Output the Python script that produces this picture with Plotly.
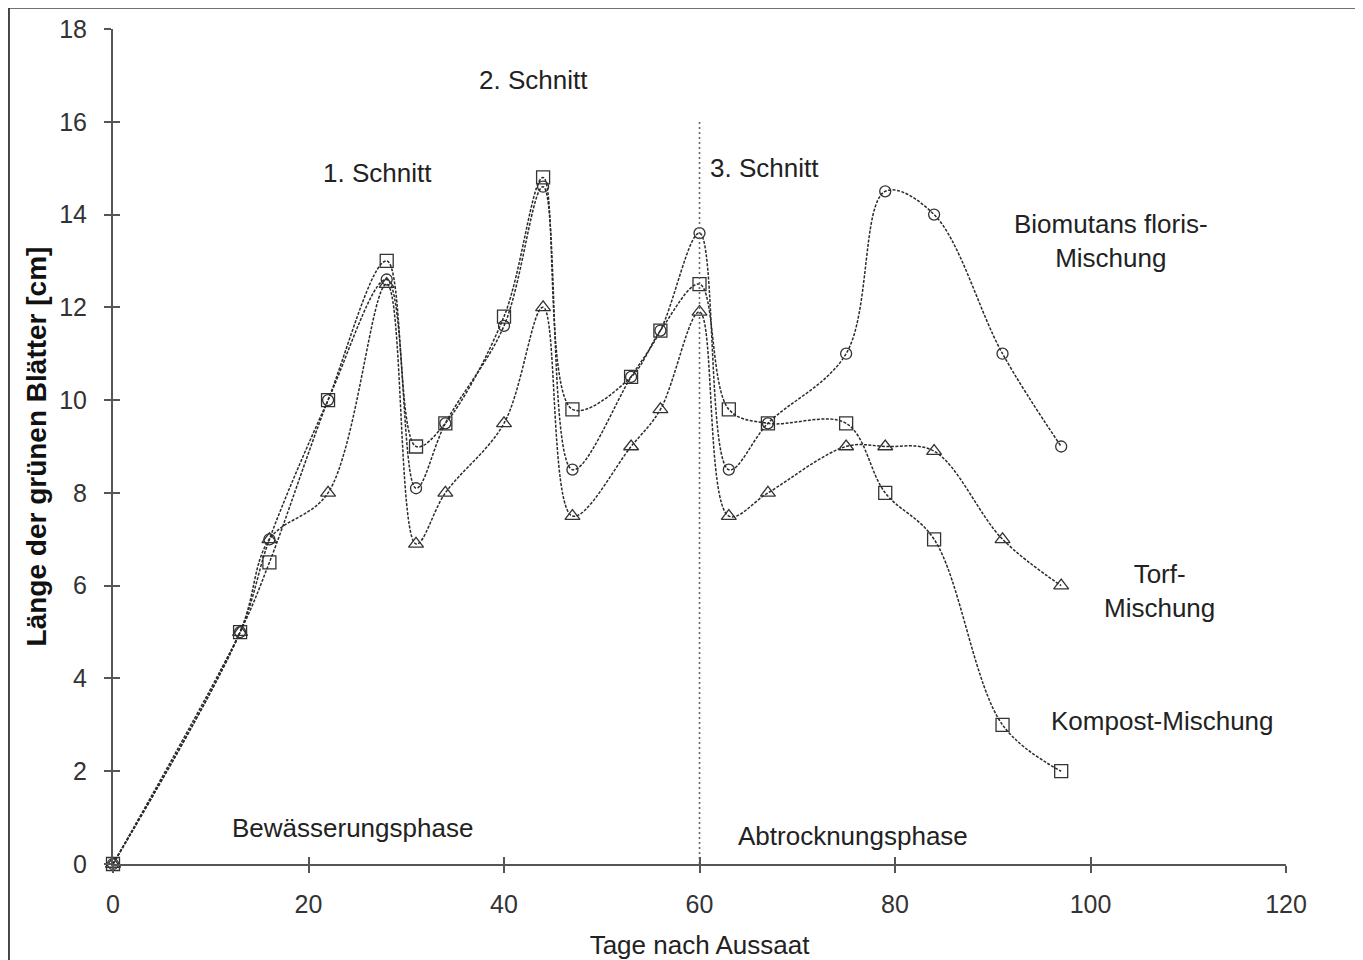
import plotly.graph_objects as go

# ---- data ----
days = [0, 13, 16, 22, 28, 31, 34, 40, 44, 47, 53, 56, 60, 63, 67, 75, 79, 84, 91, 97]
biomutans = [0, 5, 7, 10, 12.6, 8.1, 9.5, 11.6, 14.6, 8.5, 10.5, 11.5, 13.6, 8.5, 9.5, 11.0, 14.5, 14.0, 11.0, 9.0]
torf = [0, 5, 7, 8, 12.5, 6.9, 8.0, 9.5, 12.0, 7.5, 9.0, 9.8, 11.9, 7.5, 8.0, 9.0, 9.0, 8.9, 7.0, 6.0]
kompost = [0, 5, 6.5, 10, 13.0, 9.0, 9.5, 11.8, 14.8, 9.8, 10.5, 11.5, 12.5, 9.8, 9.5, 9.5, 8.0, 7.0, 3.0, 2.0]

x_ticks = [0, 20, 40, 60, 80, 100, 120]
y_ticks = [0, 2, 4, 6, 8, 10, 12, 14, 16, 18]
phase_boundary = 60
boundary_top = 16

FONT = "Liberation Sans, Arial, sans-serif"
LINE_COL = "#2a2a2a"
AXIS_COL = "#555555"

fig = go.Figure()

series = [
    ("Kompost-Mischung", kompost, "square-open", 13),
    ("Torf-Mischung", torf, "triangle-up-open", 13),
    ("Biomutans floris-Mischung", biomutans, "circle-open", 11),
]
for name, ys, sym, size in series:
    fig.add_trace(go.Scatter(
        x=days, y=ys, name=name, mode="lines+markers",
        line=dict(color=LINE_COL, width=1.5, dash="3px,1.5px", shape="spline", smoothing=1.0),
        marker=dict(symbol=sym, size=size, color="#333333", line=dict(width=1.3, color="#333333")),
        cliponaxis=False, showlegend=False,
    ))

# vertical boundary between phases
fig.add_trace(go.Scatter(
    x=[phase_boundary, phase_boundary], y=[0, boundary_top], mode="lines",
    line=dict(color="#666666", width=1.6, dash="2px,3px"), showlegend=False, hoverinfo="skip",
))

annotations = [
    ("1. Schnitt", 27.1, 14.9),
    ("2. Schnitt", 43.0, 16.9),
    ("3. Schnitt", 66.6, 15.0),
    ("Biomutans floris-<br>Mischung", 102.1, 13.43),
    ("Torf-<br>Mischung", 107.1, 5.88),
    ("Kompost-Mischung", 107.4, 3.08),
    ("Bewässerungsphase", 24.45, 0.78),
    ("Abtrocknungsphase", 75.7, 0.6),
]
for text, ax, ay in annotations:
    fig.add_annotation(x=ax, y=ay, text=text, showarrow=False, xref="x", yref="y",
                       font=dict(family=FONT, size=26, color="#222222"), align="center")

# outer frame of the figure
fig.add_shape(type="path", xref="paper", yref="paper",
              path="M -0.0887,-0.2 L -0.0887,1.0255 L 1.0639,1.0255 L 1.0639,-0.2",
              line=dict(color="#444444", width=2))

axis_common = dict(showgrid=False, zeroline=False, showline=True, linecolor=AXIS_COL, linewidth=2,
                   ticks="outside", ticklen=7, tickwidth=1.5, tickcolor=AXIS_COL, automargin=False,
                   tickfont=dict(family=FONT, size=25, color="#333333"))

fig.update_layout(
    template="none",
    width=1355, height=952,
    margin=dict(l=105, r=77, t=21, b=96, autoexpand=False),
    paper_bgcolor="white", plot_bgcolor="white",
    xaxis=dict(range=[0, 120], tickvals=x_ticks, ticktext=[str(v) for v in x_ticks],
               ticklabelstandoff=10,
               title=dict(text="Tage nach Aussaat", font=dict(family=FONT, size=26, color="#222222"), standoff=19),
               **axis_common),
    yaxis=dict(range=[0, 18], tickvals=y_ticks, ticktext=[str(v) for v in y_ticks],
               ticklabelstandoff=12,
               title=dict(text="<b>Länge der grünen Blätter [cm]</b>", font=dict(family=FONT, size=28, color="#111111"), standoff=4),
               **axis_common),
    xaxis2=dict(range=[0, 120], overlaying="x", tickvals=x_ticks, showticklabels=False,
                ticks="inside", ticklen=7, tickwidth=1.5, tickcolor=AXIS_COL, automargin=False,
                showgrid=False, zeroline=False, showline=False),
    yaxis2=dict(range=[0, 18], overlaying="y", tickvals=y_ticks, showticklabels=False,
                ticks="inside", ticklen=7, tickwidth=1.5, tickcolor=AXIS_COL, automargin=False,
                showgrid=False, zeroline=False, showline=False),
)
# invisible trace to activate the overlaid tick axes
fig.add_trace(go.Scatter(x=[0], y=[0], xaxis="x2", yaxis="y2", mode="markers",
                         marker=dict(opacity=0), showlegend=False, hoverinfo="skip"))

fig.write_html("out.html")
